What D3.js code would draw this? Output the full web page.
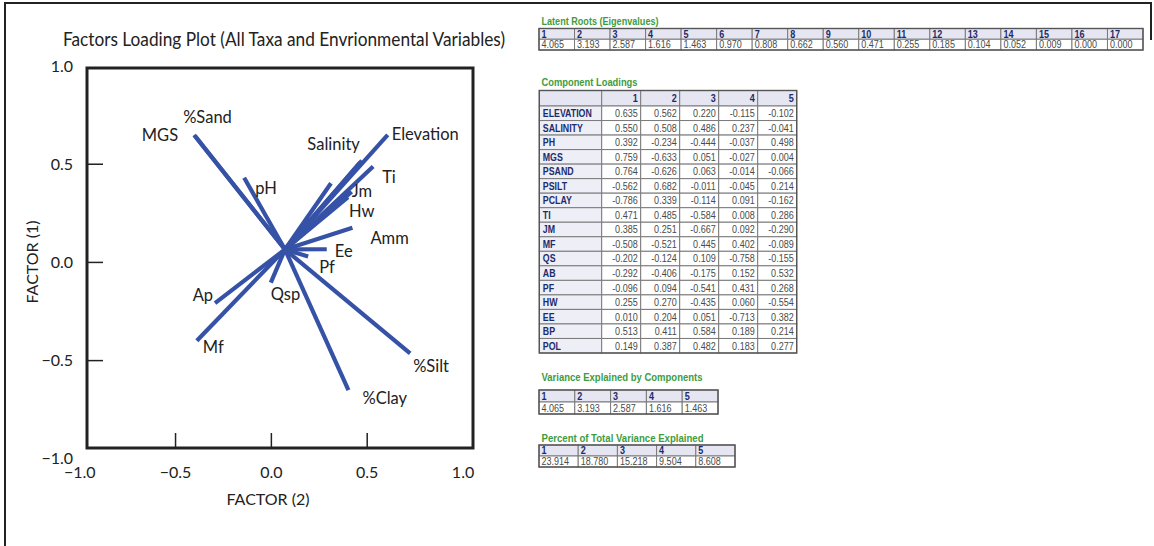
<!DOCTYPE html>
<html>
<head>
<meta charset="utf-8">
<script src="https://cdn.jsdelivr.net/npm/d3@7"></script>
<style>
  html, body { margin: 0; padding: 0; background: #fff; }
  svg { display: block; }
</style>
</head>
<body>
<svg id="chart" width="1154" height="546"></svg>
<script>
// ---------------- DATA ----------------
// Loading plot: variable names, labels, loadings on factor 2 (x) and factor 1 (y)
const vectorNames   = ["%Sand", "MGS", "pH", "Pol", "Bp", "Salinity", "Elevation", "Ti", "Jm", "Hw", "Amm", "Ee", "Pf", "Ap", "Qsp", "Mf", "%Clay", "%Silt"];
const vectorLabels  = ["%Sand", "MGS", "pH", "", "", "Salinity", "Elevation", "Ti", "Jm", "Hw", "Amm", "Ee", "Pf", "Ap", "Qsp", "Mf", "%Clay", "%Silt"];
const factor2Values = [-0.403, -0.398, -0.142, 0.311, 0.462, 0.472, 0.607, 0.531, 0.419, 0.400, 0.423, 0.289, 0.192, -0.294, -0.003, -0.389, 0.402, 0.724];
const factor1Values = [0.649, 0.644, 0.431, 0.403, 0.508, 0.518, 0.649, 0.488, 0.360, 0.333, 0.177, 0.067, 0.030, -0.207, -0.103, -0.399, -0.650, -0.463];
const vectorOrigin  = [0.071, 0.066];   // common start point [factor2, factor1]

const axisTicks      = [-0.5, 0.0, 0.5];
const axisTickLabels = [-1.0, -0.5, 0.0, 0.5, 1.0];

// Latent roots
const eigenIndex  = ["1","2","3","4","5","6","7","8","9","10","11","12","13","14","15","16","17"];
const eigenValues = ["4.065","3.193","2.587","1.616","1.463","0.970","0.808","0.662","0.560","0.471","0.255","0.185","0.104","0.052","0.009","0.000","0.000"];

// Component loadings
const loadingVars = ["ELEVATION","SALINITY","PH","MGS","PSAND","PSILT","PCLAY","TI","JM","MF","QS","AB","PF","HW","EE","BP","POL"];
const loadingComponents = ["1","2","3","4","5"];
const loadingC1 = ["0.635","0.550","0.392","0.759","0.764","-0.562","-0.786","0.471","0.385","-0.508","-0.202","-0.292","-0.096","0.255","0.010","0.513","0.149"];
const loadingC2 = ["0.562","0.508","-0.234","-0.633","-0.626","0.682","0.339","0.485","0.251","-0.521","-0.124","-0.406","0.094","0.270","0.204","0.411","0.387"];
const loadingC3 = ["0.220","0.486","-0.444","0.051","0.063","-0.011","-0.114","-0.584","-0.667","0.445","0.109","-0.175","-0.541","-0.435","0.051","0.584","0.482"];
const loadingC4 = ["-0.115","0.237","-0.037","-0.027","-0.014","-0.045","0.091","0.008","0.092","0.402","-0.758","0.152","0.431","0.060","-0.713","0.189","0.183"];
const loadingC5 = ["-0.102","-0.041","0.498","0.004","-0.066","0.214","-0.162","0.286","-0.290","-0.089","-0.155","0.532","0.268","-0.554","0.382","0.214","0.277"];

// Variance explained
const varIndex  = ["1","2","3","4","5"];
const varValues = ["4.065","3.193","2.587","1.616","1.463"];
const pctValues = ["23.914","18.780","15.218","9.504","8.608"];

// ---------------- LAYOUT / STYLE ----------------
const BLUE = "#3652a6";
const plotFont = "Lato, 'Open Sans', sans-serif";
const tabFont = "'Liberation Sans', Arial, sans-serif";
const GREEN = "#3e9c3e";
const NAVY = "#1d2b6b";
const HEAD_BG = "#e6e6f2";
const LABEL_BG = "#eeeef7";

// label offsets (px) from each vector's end point
const labelLayout = {
  "%Sand":     {dx: -11, dy: -12, anchor: "start"},
  "MGS":       {dx: -17, dy: 5,   anchor: "end"},
  "pH":        {dx: 11,  dy: 16,  anchor: "start"},
  "Salinity":  {dx: -2,  dy: -11, anchor: "end"},
  "Elevation": {dx: 4,   dy: 5,   anchor: "start"},
  "Ti":        {dx: 9,   dy: 16,  anchor: "start"},
  "Jm":        {dx: 0,   dy: 5,   anchor: "start"},
  "Hw":        {dx: 1,   dy: 20,  anchor: "start"},
  "Amm":       {dx: 18,  dy: 16,  anchor: "start"},
  "Ee":        {dx: 8,   dy: 8,   anchor: "start"},
  "Pf":        {dx: 11,  dy: 16,  anchor: "start"},
  "Ap":        {dx: -2,  dy: -2,  anchor: "end"},
  "Qsp":       {dx: 0,   dy: 17,  anchor: "start"},
  "Mf":        {dx: 6,   dy: 12,  anchor: "start"},
  "%Clay":     {dx: 14,  dy: 14,  anchor: "start"},
  "%Silt":     {dx: 3,   dy: 19,  anchor: "start"}
};

const svg = d3.select("#chart");

// outer frame
svg.append("path")
  .attr("d", "M5,546 V3 H1151 V40")
  .attr("fill", "none").attr("stroke", "#222").attr("stroke-width", 2);

// ---------------- LOADING PLOT ----------------
const box = {left: 87, right: 473, top: 68, bottom: 448};
const x = d3.scaleLinear().domain([-0.962, 1.052]).range([box.left, box.right]);
const y = d3.scaleLinear().domain([0.990, -0.945]).range([box.top, box.bottom]);

const plot = svg.append("g");

plot.append("text")
  .attr("x", 284).attr("y", 46)
  .attr("text-anchor", "middle")
  .attr("font-family", plotFont).attr("font-size", 18.5).attr("fill", "#222")
  .attr("textLength", 442).attr("lengthAdjust", "spacingAndGlyphs")
  .text("Factors Loading Plot (All Taxa and Envrionmental Variables)");

plot.append("rect")
  .attr("x", box.left).attr("y", box.top)
  .attr("width", box.right - box.left).attr("height", box.bottom - box.top)
  .attr("fill", "none").attr("stroke", "#222").attr("stroke-width", 3);

// inner tick marks
plot.selectAll(".ytick").data(axisTicks).join("line")
  .attr("x1", box.left).attr("x2", box.left + 16)
  .attr("y1", d => y(d)).attr("y2", d => y(d))
  .attr("stroke", "#222").attr("stroke-width", 1.5);
plot.selectAll(".xtick").data(axisTicks).join("line")
  .attr("y1", box.bottom).attr("y2", box.bottom - 15)
  .attr("x1", d => x(d)).attr("x2", d => x(d))
  .attr("stroke", "#222").attr("stroke-width", 1.5);

// tick labels
plot.selectAll(".ylab").data(axisTickLabels).join("text")
  .attr("x", 73).attr("y", d => y(d) + 5.5)
  .attr("text-anchor", "end")
  .attr("font-family", plotFont).attr("font-size", 16).attr("fill", "#222")
  .text(d => d3.format(".1f")(d));
plot.selectAll(".xlab").data(axisTickLabels).join("text")
  .attr("x", d => x(d)).attr("y", 478)
  .attr("text-anchor", "middle")
  .attr("font-family", plotFont).attr("font-size", 16).attr("fill", "#222")
  .text(d => d3.format(".1f")(d));

// axis titles
plot.append("text")
  .attr("x", 268).attr("y", 505).attr("text-anchor", "middle")
  .attr("font-family", plotFont).attr("font-size", 16).attr("fill", "#222")
  .text("FACTOR (2)");
plot.append("text")
  .attr("transform", "translate(38,262) rotate(-90)").attr("text-anchor", "middle")
  .attr("font-family", plotFont).attr("font-size", 16).attr("fill", "#222")
  .text("FACTOR (1)");

// vectors
const vectors = vectorNames.map((n, i) => ({name: n, label: vectorLabels[i], fx: factor2Values[i], fy: factor1Values[i]}));
plot.selectAll(".vec").data(vectors).join("line")
  .attr("x1", x(vectorOrigin[0])).attr("y1", y(vectorOrigin[1]))
  .attr("x2", d => x(d.fx)).attr("y2", d => y(d.fy))
  .attr("stroke", BLUE).attr("stroke-width", 4.2).attr("stroke-linecap", "butt");

plot.selectAll(".vlab").data(vectors.filter(d => d.label)).join("text")
  .attr("x", d => x(d.fx) + labelLayout[d.label].dx)
  .attr("y", d => y(d.fy) + labelLayout[d.label].dy)
  .attr("text-anchor", d => labelLayout[d.label].anchor)
  .attr("font-family", plotFont).attr("font-size", 16.5).attr("fill", "#222")
  .text(d => d.label);

// ---------------- TABLES ----------------
const NARROW = 0.86; // horizontal condensing factor of the table font

function tableTitle(txt, x0, yb, len) {
  svg.append("text").attr("x", x0).attr("y", yb)
    .attr("font-family", tabFont).attr("font-weight", "bold").attr("font-size", 10.5)
    .attr("fill", GREEN)
    .attr("textLength", len).attr("lengthAdjust", "spacingAndGlyphs")
    .text(txt);
}

// simple two-row table (header indices + values)
function simpleTable(headers, values, xr, yr) {
  const g = svg.append("g");
  const cx = d3.scaleBand().domain(headers).range(xr);
  const ry = d3.scaleBand().domain(["h", "v"]).range(yr);
  const cells = [];
  headers.forEach((h, i) => {
    cells.push({c: h, r: "h", bg: HEAD_BG, t: h, head: true});
    cells.push({c: h, r: "v", bg: "#fff", t: values[i], head: false});
  });
  g.selectAll("rect.cell").data(cells).join("rect")
    .attr("class", "cell")
    .attr("x", d => cx(d.c)).attr("y", d => ry(d.r))
    .attr("width", cx.bandwidth()).attr("height", ry.bandwidth())
    .attr("fill", d => d.bg).attr("stroke", "#7a7a7a").attr("stroke-width", 1);
  g.selectAll("text.ct").data(cells).join("text")
    .attr("class", "ct")
    .attr("transform", d => `translate(${cx(d.c) + 2.5},${ry(d.r) + ry.bandwidth() / 2 + 3.8}) scale(${NARROW},1)`)
    .attr("font-family", tabFont).attr("font-size", 10.5)
    .attr("font-weight", d => d.head ? "bold" : "normal")
    .attr("fill", d => d.head ? NAVY : "#4a4a4a")
    .text(d => d.t);
  const [x0, x1] = cx.range(), [y0, y1] = ry.range();
  g.append("rect").attr("x", x0).attr("y", y0).attr("width", x1 - x0).attr("height", y1 - y0)
    .attr("fill", "none").attr("stroke", "#555").attr("stroke-width", 1.4);
}

// Latent roots
tableTitle("Latent Roots (Eigenvalues)", 541.5, 25, 117);
simpleTable(eigenIndex, eigenValues, [539, 1143], [28.5, 50]);

// Component loadings
tableTitle("Component Loadings", 541.5, 86, 96);
{
  const g = svg.append("g");
  const cols = ["lab"].concat(loadingComponents);
  const rows = ["hdr"].concat(loadingVars);
  const labX = d3.scaleBand().domain(["lab"]).range([539.3, 601.7]);
  const valX = d3.scaleBand().domain(loadingComponents).range([601.7, 796.7]);
  const cx = c => c === "lab" ? labX(c) : valX(c);
  const cw = c => c === "lab" ? labX.bandwidth() : valX.bandwidth();
  const headerBand = d3.scaleBand().domain(["hdr"]).range([90.5, 106]);
  const bodyBand = d3.scaleBand().domain(loadingVars).range([106, 353]);
  const ry = r => r === "hdr" ? headerBand(r) : bodyBand(r);
  const rh = r => r === "hdr" ? headerBand.bandwidth() : bodyBand.bandwidth();
  const colsData = [loadingC1, loadingC2, loadingC3, loadingC4, loadingC5];
  const cells = [];
  rows.forEach((r, ri) => {
    cols.forEach((c, ci) => {
      let t = "", bg = "#fff", kind = "val";
      if (r === "hdr") { bg = HEAD_BG; kind = "head"; t = c === "lab" ? "" : c; }
      else if (c === "lab") { bg = LABEL_BG; kind = "lab"; t = r; }
      else { t = colsData[ci - 1][ri - 1]; }
      cells.push({r, c, t, bg, kind});
    });
  });
  g.selectAll("rect").data(cells).join("rect")
    .attr("x", d => cx(d.c)).attr("y", d => ry(d.r))
    .attr("width", d => cw(d.c)).attr("height", d => rh(d.r))
    .attr("fill", d => d.bg).attr("stroke", "#7a7a7a").attr("stroke-width", 1);
  g.selectAll("text").data(cells.filter(d => d.t)).join("text")
    .attr("transform", d => {
      const tx = d.kind === "lab" ? cx(d.c) + 3.5 : cx(d.c) + cw(d.c) - 3;
      const ty = ry(d.r) + rh(d.r) / 2 + 3.9;
      return `translate(${tx},${ty}) scale(${d.kind === "lab" ? 0.8 : NARROW},1)`;
    })
    .attr("text-anchor", d => d.kind === "lab" ? "start" : "end")
    .attr("font-family", tabFont)
    .attr("font-size", d => d.kind === "lab" ? 11 : 10.5)
    .attr("font-weight", d => d.kind === "val" ? "normal" : "bold")
    .attr("fill", d => d.kind === "val" ? "#4a4a4a" : NAVY)
    .text(d => d.t);
  g.append("rect").attr("x", 539.3).attr("y", 90.5).attr("width", 796.7 - 539.3).attr("height", 353 - 90.5)
    .attr("fill", "none").attr("stroke", "#555").attr("stroke-width", 1.4);
}

// Variance explained
tableTitle("Variance Explained by Components", 541.5, 381, 161);
simpleTable(varIndex, varValues, [539, 718], [390, 414]);

// Percent of total variance
tableTitle("Percent of Total Variance Explained", 541.5, 442, 162);
simpleTable(varIndex, pctValues, [539, 735], [445, 467]);
</script>
</body>
</html>
